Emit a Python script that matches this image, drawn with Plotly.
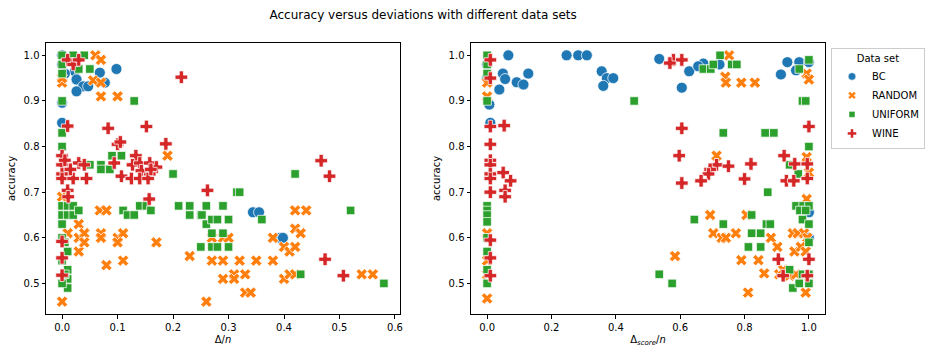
import plotly.graph_objects as go
from plotly.subplots import make_subplots

# ---------------- data: left panel (x = Delta/n) ----------------
bc_l_x = [0.0, 0.0, 0.023, 0.026, 0.038, 0.026, 0.047, 0.068, 0.077, 0.098, 0.0, 0.0, 0.01, 0.005, 0.344, 0.355, 0.393, 0.398]
bc_l_y = [0.98, 1.0, 0.965, 0.947, 0.932, 0.921, 0.932, 0.962, 0.94, 0.97, 0.896, 0.852, 0.99, 0.96, 0.656, 0.656, 0.60, 0.60]

rnd_l_x = [0.06, 0.07, 0.0, 0.056, 0.07, 0.07, 0.10, 0.19, 0.068, 0.08, 0.03, 0.01, 0.03, 0.04, 0.07, 0.07, 0.10, 0.11,
           0.10, 0.03, 0.04, 0.17, 0.11, 0.08, 0.23, 0.0, 0.0, 0.42, 0.44, 0.42, 0.43, 0.38, 0.40, 0.41, 0.42, 0.27, 0.29,
           0.30, 0.27, 0.29, 0.32, 0.35, 0.38, 0.29, 0.31, 0.31, 0.33, 0.40, 0.41, 0.42, 0.54, 0.56, 0.33, 0.34, 0.26,
           0.02, 0.0]
rnd_l_y = [1.0, 0.99, 0.94, 0.945, 0.94, 0.91, 0.91, 0.78, 0.66, 0.66, 0.63, 0.61, 0.60, 0.61, 0.61, 0.60, 0.60, 0.61,
           0.59, 0.57, 0.59, 0.59, 0.55, 0.54, 0.56, 0.46, 0.69, 0.66, 0.66, 0.62, 0.61, 0.60, 0.58, 0.57, 0.58, 0.60, 0.60,
           0.60, 0.55, 0.55, 0.55, 0.55, 0.55, 0.51, 0.52, 0.51, 0.52, 0.51, 0.52, 0.52, 0.52, 0.52, 0.48, 0.48, 0.46,
           0.99, 0.95]

uni_l_x = [0.0, 0.02, 0.04, 0.0, 0.05, 0.03, 0.13, 0.0, 0.0, 0.0, 0.09, 0.107, 0.05, 0.07, 0.07, 0.086, 0.2, 0.315,
           0.0, 0.01, 0.02, 0.0, 0.01, 0.02, 0.03, 0.0, 0.14, 0.152, 0.11, 0.118, 0.13, 0.16, 0.21, 0.23, 0.26, 0.29,
           0.23, 0.25, 0.252, 0.26, 0.27, 0.28, 0.30, 0.27, 0.29, 0.25, 0.27, 0.28, 0.30, 0.01, 0.01, 0.01, 0.01, 0.0,
           0.32, 0.36, 0.52, 0.42, 0.43, 0.58, 0.0, 0.0, 0.0, 0.005, 0.005]
uni_l_y = [1.0, 1.0, 1.0, 0.96, 0.97, 0.97, 0.90, 0.90, 0.83, 0.80, 0.78, 0.78, 0.76, 0.76, 0.75, 0.75, 0.74, 0.70,
           0.67, 0.67, 0.67, 0.65, 0.65, 0.65, 0.66, 0.63, 0.67, 0.67, 0.66, 0.65, 0.65, 0.66, 0.67, 0.67, 0.67, 0.67,
           0.65, 0.65, 0.65, 0.63, 0.64, 0.64, 0.64, 0.61, 0.61, 0.58, 0.58, 0.58, 0.58, 0.57, 0.53, 0.51, 0.49, 0.50,
           0.70, 0.64, 0.66, 0.74, 0.52, 0.50, 0.98, 0.60, 0.55, 0.59, 0.52]

wine_l_x = [0.01, 0.02, 0.03, 0.215, 0.01, 0.083, 0.152, 0.10, 0.105, 0.187, 0.0, 0.133, 0.094, 0.0, 0.0, 0.0, 0.03,
            0.04, 0.127, 0.14, 0.158, 0.17, 0.158, 0.143, 0.107, 0.02, 0.044, 0.125, 0.14, 0.155, 0.01, 0.011, 0.157,
            0.262, 0.0, 0.0, 0.0, 0.467, 0.482, 0.474, 0.507, 0.005, 0.015, 0.16]
wine_l_y = [0.99, 0.98, 0.99, 0.952, 0.845, 0.84, 0.844, 0.805, 0.81, 0.806, 0.78, 0.78, 0.764, 0.76, 0.74, 0.73, 0.764,
            0.76, 0.76, 0.764, 0.764, 0.755, 0.74, 0.747, 0.735, 0.73, 0.73, 0.73, 0.73, 0.73, 0.704, 0.69, 0.685,
            0.704, 0.592, 0.556, 0.518, 0.769, 0.735, 0.553, 0.517, 0.77, 0.75, 0.75]

# ---------------- data: right panel (x = Delta_score/n) ----------------
bc_r_x = [0.066, 0.247, 0.283, 0.31, 0.049, 0.056, 0.092, 0.113, 0.128, 0.038, 0.007, 0.01, 0.356, 0.372, 0.392, 0.361,
          0.535, 0.628, 0.605, 0.672, 0.722, 0.656, 0.933, 0.97, 1.0, 0.913, 0.96, 1.0, 1.0, 0.0, 0.0]
bc_r_y = [1.0, 1.0, 1.0, 1.0, 0.96, 0.948, 0.941, 0.936, 0.96, 0.925, 0.892, 0.852, 0.965, 0.95, 0.95, 0.933,
          0.992, 0.965, 0.929, 0.982, 0.98, 0.976, 0.985, 0.985, 0.985, 0.958, 0.967, 0.656, 0.60, 0.98, 0.95]

rnd_r_x = [0.0, 0.0, 0.0, 0.0, 0.752, 0.74, 0.742, 0.79, 0.832, 0.993, 1.0, 0.713, 0.693, 0.806, 0.703, 0.729, 0.742,
           0.773, 0.882, 0.902, 0.95, 0.965, 0.985, 0.995, 0.955, 0.975, 0.99, 0.993, 0.584, 0.79, 0.843, 0.861, 0.908,
           0.94, 0.982, 0.811, 0.99, 0.993, 1.0, 0.0, 0.0, 0.96, 0.92]
rnd_r_y = [0.94, 0.91, 0.61, 0.467, 1.0, 0.953, 0.94, 0.94, 0.94, 0.96, 0.947, 0.78, 0.65, 0.65, 0.61, 0.60, 0.60,
           0.61, 0.60, 0.58, 0.61, 0.61, 0.61, 0.60, 0.57, 0.58, 0.57, 0.685, 0.56, 0.551, 0.551, 0.522, 0.52,
           0.517, 0.517, 0.48, 0.48, 0.777, 0.743, 0.55, 0.52, 0.52, 0.53]

uni_r_x = [0.0, 0.0, 0.0, 0.0, 0.0, 0.0, 0.0, 0.0, 0.0, 0.0, 0.0, 0.0, 0.724, 0.672, 0.695, 0.703, 0.76, 0.776, 1.0,
           0.97, 0.457, 0.98, 0.99, 0.734, 0.864, 0.891, 1.0, 0.94, 0.967, 0.872, 0.96, 0.982, 1.0, 0.972, 0.99,
           0.822, 0.98, 0.644, 0.734, 0.868, 0.88, 0.822, 0.85, 1.0, 1.0, 0.812, 0.85, 0.535, 0.575, 0.94, 0.98,
           1.0, 0.95, 0.97, 1.0]
uni_r_y = [1.0, 0.98, 0.96, 0.90, 0.67, 0.66, 0.65, 0.635, 0.60, 0.57, 0.53, 0.50, 1.0, 0.97, 0.97, 0.98, 0.98, 0.98,
           0.99, 0.97, 0.90, 0.90, 0.90, 0.83, 0.83, 0.83, 0.80, 0.76, 0.74, 0.70, 0.67, 0.67, 0.67, 0.66, 0.66,
           0.65, 0.64, 0.64, 0.63, 0.63, 0.63, 0.61, 0.61, 0.63, 0.59, 0.58, 0.58, 0.52, 0.50, 0.53, 0.52,
           0.52, 0.49, 0.50, 0.50]

wine_r_x = [0.01, 0.01, 0.01, 0.053, 0.01, 0.01, 0.01, 0.01, 0.05, 0.073, 0.01, 0.056, 0.056, 0.01, 0.01, 0.01, 0.01,
            0.579, 0.605, 0.568, 0.605, 0.597, 0.713, 0.75, 0.693, 0.688, 0.82, 0.80, 0.665, 0.605, 1.0, 0.923,
            0.956, 0.995, 0.93, 0.953, 0.995, 0.905, 1.0, 0.92, 0.995]
wine_r_y = [0.99, 0.95, 0.844, 0.846, 0.805, 0.77, 0.76, 0.74, 0.743, 0.725, 0.70, 0.704, 0.69, 0.595, 0.556, 0.517,
            0.73, 0.99, 0.99, 0.983, 0.84, 0.78, 0.76, 0.757, 0.75, 0.74, 0.762, 0.729, 0.725, 0.72, 0.844, 0.78,
            0.762, 0.762, 0.725, 0.725, 0.73, 0.553, 0.553, 0.517, 0.517]

series_names = ["BC", "RANDOM", "UNIFORM", "WINE"]
colors = ["#1f77b4", "#ff7f0e", "#2ca02c", "#d62728"]
symbols = ["circle", "x", "square", "cross"]
sizes = [11, 10, 8.5, 10.5]
legend_sizes = [7.5, 7, 6, 7.5]

left = [(bc_l_x, bc_l_y), (rnd_l_x, rnd_l_y), (uni_l_x, uni_l_y), (wine_l_x, wine_l_y)]
right = [(bc_r_x, bc_r_y), (rnd_r_x, rnd_r_y), (uni_r_x, uni_r_y), (wine_r_x, wine_r_y)]

fig = make_subplots(rows=1, cols=2, horizontal_spacing=0.0912)

for i, name in enumerate(series_names):
    for col, data in ((1, left), (2, right)):
        fig.add_trace(go.Scatter(
            x=data[i][0], y=data[i][1], mode="markers", name=name,
            legendgroup=name, showlegend=False,
            marker=dict(symbol=symbols[i], color=colors[i], size=sizes[i],
                        line=dict(color="white", width=0.75)),
        ), row=1, col=col)
    # legend-only entry with small marker, like the reference legend
    fig.add_trace(go.Scatter(
        x=[None], y=[None], mode="markers", name=name, legendgroup=name, showlegend=True,
        marker=dict(symbol=symbols[i], color=colors[i], size=legend_sizes[i],
                    line=dict(color="white", width=0.5)),
    ), row=1, col=1)

axis_common = dict(showline=True, linecolor="black", linewidth=1, mirror=True,
                   ticks="outside", ticklen=3.5, tickwidth=0.8, tickcolor="black",
                   showgrid=False, zeroline=False,
                   tickfont=dict(family="DejaVu Sans", size=10, color="black"))

fig.update_xaxes(range=[-0.029, 0.609], tickvals=[0, 0.1, 0.2, 0.3, 0.4, 0.5, 0.6], tickformat=".1f",
                 title=dict(text="Δ/<i>n</i>", font=dict(family="DejaVu Sans", size=10, color="black"), standoff=4),
                 row=1, col=1, **axis_common)
fig.update_xaxes(range=[-0.05, 1.05], tickvals=[0, 0.2, 0.4, 0.6, 0.8, 1.0], tickformat=".1f",
                 title=dict(text="Δ<sub><i>score</i></sub>/<i>n</i>", font=dict(family="DejaVu Sans", size=10, color="black"), standoff=4),
                 row=1, col=2, **axis_common)
for c in (1, 2):
    fig.update_yaxes(range=[0.433, 1.027], tickvals=[0.5, 0.6, 0.7, 0.8, 0.9, 1.0], tickformat=".1f",
                     title=dict(text="accuracy", font=dict(family="DejaVu Sans", size=10, color="black"), standoff=6),
                     row=1, col=c, **axis_common)

fig.update_layout(
    width=930, height=356,
    margin=dict(l=46, r=105, t=43, b=42, autoexpand=False),
    plot_bgcolor="white", paper_bgcolor="white",
    font=dict(family="DejaVu Sans", size=10, color="black"),
    title=dict(text="Accuracy versus deviations with different data sets", x=0.455, xref="container",
               xanchor="center", y=0.958, yref="container", yanchor="middle",
               font=dict(family="DejaVu Sans", size=12, color="black")),
    legend=dict(title=dict(text="Data set", side="top center", font=dict(size=10)),
                x=1.0077, xanchor="left", y=0.982, yanchor="top",
                bordercolor="#cccccc", borderwidth=1, bgcolor="white",
                font=dict(family="DejaVu Sans", size=10, color="black"),
                itemsizing="trace", tracegroupgap=0),
)

fig.write_html("out.html")
